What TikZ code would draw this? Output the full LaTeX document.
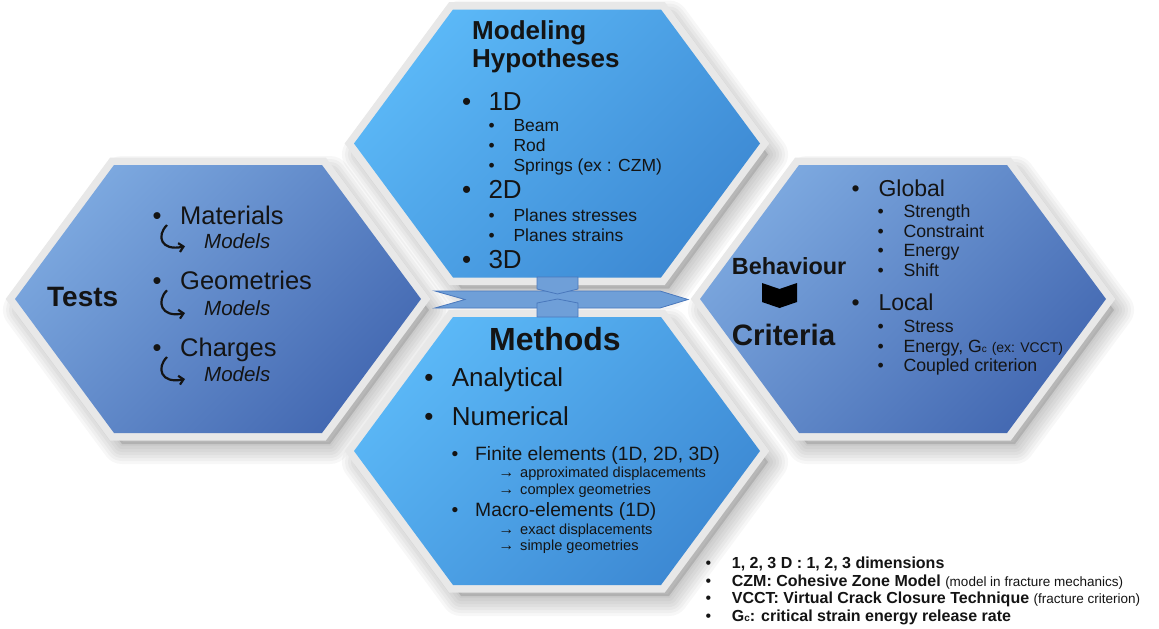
\documentclass[tikz,border=0pt]{standalone}
\usepackage{fontspec}
\setmainfont{Liberation Sans}
\usetikzlibrary{arrows.meta}

\definecolor{paleA}{HTML}{7CA8DF}
\definecolor{deepA}{HTML}{4469B2}
\definecolor{paleB}{HTML}{5BB8F7}
\definecolor{deepB}{HTML}{3D89D3}
\definecolor{frameGray}{HTML}{E8E8E8}
\definecolor{arrowFill}{HTML}{6F9FD8}
\definecolor{arrowLine}{HTML}{4A78BC}
\definecolor{ink}{HTML}{141414}

% hexagon around the origin, pixel units
\newcommand{\hexshape}{(-203,0) -- (-104,-134) -- (104,-134) -- (203,0) -- (104,134) -- (-104,134) -- cycle}

\newcommand{\hexshadow}[1]{%
  \foreach \w in {4,10,...,40}
    \draw[shift={(#1)}, shift={(8,11)}, line width=\w pt, line join=round, black, opacity=.03] \hexshape;
  \fill[shift={(#1)}, shift={(8,11)}, black, opacity=.12] \hexshape;
}

\newcommand{\hexbody}[3]{%
  \draw[shift={(#1)}, frameGray, line width=15pt, line join=miter] \hexshape;
  \shade[shift={(#1)}, top color=#2, bottom color=#3, shading angle=45] \hexshape;
}

\begin{document}
\begin{tikzpicture}[x=1pt, y=-1pt,
    every node/.style={inner sep=0pt, text=ink},
    head/.style={anchor=base west, font=\bfseries\fontsize{#1}{#1}\selectfont},
    txt/.style={anchor=base west, font=\fontsize{#1}{#1}\selectfont},
    bul/.style={anchor=base, font=\fontsize{#1}{#1}\selectfont},
    models/.style={anchor=base west, font=\itshape\fontsize{20.5}{20.5}\selectfont},
    turn/.style={line width=2.2pt, draw=ink, -{Straight Barb[length=4.5pt,width=9pt]}},
    plate/.style={draw=arrowLine, fill=arrowFill, line width=0.8pt, line join=miter}]

\useasboundingbox (0,0) rectangle (1159,629);
\fill[white] (0,0) rectangle (1159,629);

\coordinate (tests) at (218,299);
\coordinate (hypo) at (557,143.5);
\coordinate (meth) at (557,451);
\coordinate (crit) at (903,299);

% shadows, then the plates
\hexshadow{tests}
\hexshadow{hypo}
\hexshadow{meth}
\hexshadow{crit}
\hexbody{tests}{paleA}{deepA}
\hexbody{hypo}{paleB}{deepB}
\hexbody{meth}{paleB}{deepB}
\hexbody{crit}{paleA}{deepA}

% link between Tests and Criteria
\draw[plate] (435,291) -- (660,291) -- (688,299.5) -- (660,308) -- (435,308) -- (465,299.5) -- cycle;
\draw[plate] (537,277) -- (578,277) -- (578,289) -- (557.5,294) -- (537,289) -- cycle;
\draw[plate] (537,317) -- (578,317) -- (578,303) -- (557.5,299) -- (537,303) -- cycle;

% Tests
\node[head=28] (tests-lbl) at (47,306.7) {Tests};
\foreach \t/\y/\m [count=\i] in {Materials/224/248.3, Geometries/289.3/315, Charges/356/381}{
  \node[bul=25.5] (tests-b\i) at (157,\y) {\textbullet};
  \node[txt=25.5] (tests-i\i) at (180,\y) {\t};
  \node[models] (tests-m\i) at (204,\m) {Models};
  \draw[turn] ([shift={(-13,1)}]tests-i\i.base west) .. controls +(-11,11) and +(-24,5) .. ([shift={(-19,-2)}]tests-m\i.base west);
}

% Modeling hypotheses
\node[head=26] (hypo-lbl1) at (472,39.3) {Modeling};
\node[head=26] (hypo-lbl2) at (472,67) {Hypotheses};
\foreach \t/\y [count=\i] in {1D/110, 2D/198.3, 3D/268.3}{
  \node[bul=26] (hypo-b\i) at (466.7,\y) {\textbullet};
  \node[txt=26] (hypo-i\i) at (488.3,\y) {\t};
}
\foreach \t/\y [count=\i] in {Beam/131.7, Rod/151, Springs (ex : CZM)/171, Planes stresses/221.7, Planes strains/241}{
  \node[bul=17.5] (hypo-sb\i) at (491.7,\y) {\textbullet};
  \node[txt=17.5] (hypo-s\i) at (513.3,\y) {\t};
}

% Methods
\node[head=32, anchor=base] (meth-lbl) at (555,350) {Methods};
\foreach \t/\y [count=\i] in {Analytical/386, Numerical/425}{
  \node[bul=26] (meth-b\i) at (429,\y) {\textbullet};
  \node[txt=26] (meth-i\i) at (451.7,\y) {\t};
}
\foreach \t/\y [count=\i] in {{Finite elements (1D, 2D, 3D)}/460, Macro-elements (1D)/516.7}{
  \node[bul=19.3] (meth-sb\i) at (455,\y) {\textbullet};
  \node[txt=19.3] (meth-s\i) at (475,\y) {\t};
}
\foreach \t/\y [count=\i] in {approximated displacements/477.7, complex geometries/494, exact displacements/534, simple geometries/550}{
  \node[txt=16, anchor=base east] (meth-a\i) at (514.5,\y) {→};
  \node[txt=14.6] (meth-t\i) at (520,\y) {\t};
}

% Behaviour / Criteria
\node[head=23.4] (crit-lbl1) at (731.7,274) {Behaviour};
\node[head=29.5] (crit-lbl2) at (731.7,345) {Criteria};
\fill[black] (762,283) -- (779.5,289) -- (797,283) -- (797,302) -- (779.5,308) -- (762,302) -- cycle;
\foreach \t/\y [count=\i] in {Global/196, Local/310.7}{
  \node[bul=23] (crit-b\i) at (855.7,\y) {\textbullet};
  \node[txt=23] (crit-i\i) at (878.3,\y) {\t};
}
\foreach \t/\y [count=\i] in {Strength/217.7, Constraint/237.3, Energy/256.7, Shift/276, Stress/332.7,
    {Energy, G{\fontsize{10}{10}\selectfont c} {\fontsize{14}{14}\selectfont (ex: VCCT)}}/352.3, Coupled criterion/371.7}{
  \node[bul=17.7] (crit-sb\i) at (880.7,\y) {\textbullet};
  \node[txt=17.7] (crit-s\i) at (903.3,\y) {\t};
}

% legend
\foreach \t/\y [count=\i] in {{1, 2, 3 D : 1, 2, 3 dimensions}/568.3,
    {CZM: Cohesive Zone Model {\mdseries\fontsize{13.5}{13.5}\selectfont(model in fracture mechanics)}}/586,
    {VCCT: Virtual Crack Closure Technique {\mdseries\fontsize{13.5}{13.5}\selectfont(fracture criterion)}}/603.3,
    {G{\fontsize{10}{10}\selectfont c}: critical strain energy release rate}/621.7}{
  \node[bul=16] (note-b\i) at (708.3,\y) {\textbullet};
  \node[head=16] (note-\i) at (731.7,\y) {\t};
}

\end{tikzpicture}
\end{document}
